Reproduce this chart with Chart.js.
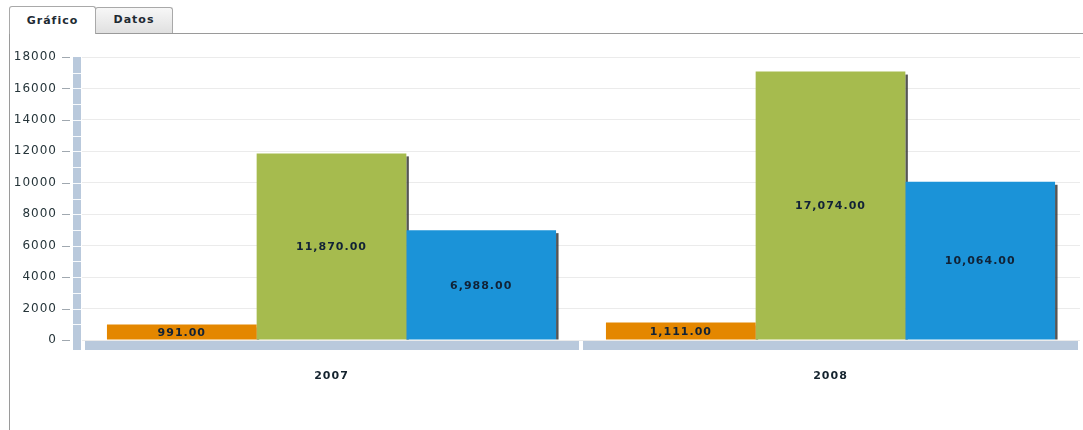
<!DOCTYPE html>
<html><head><meta charset="utf-8">
<script src="https://cdn.jsdelivr.net/npm/chart.js@4"></script>
<style>
html,body{margin:0;padding:0;background:#fff;width:1083px;height:430px;overflow:hidden;font-family:"DejaVu Sans",Verdana,sans-serif;}
.tab{position:absolute;box-sizing:border-box;font-weight:bold;font-size:11px;letter-spacing:1px;color:#1e2a33;text-align:center;border:1px solid #a9a9a9;border-bottom:none;border-radius:3px 3px 0 0;}
#t1{left:9px;top:6px;width:87px;height:28px;background:#fff;line-height:28px;z-index:2;}
#t2{left:95px;top:7px;width:78px;height:26px;background:linear-gradient(#f7f7f7,#e0e0e0);line-height:24px;}
#panel{position:absolute;left:9px;top:33px;width:1074px;height:397px;border-left:1px solid #9a9a9a;border-top:1px solid #9a9a9a;box-sizing:border-box;}
#wrap{position:absolute;left:10px;top:34px;width:1073px;height:396px;}
</style>
</head><body>
<div class="tab" id="t1">Gráfico</div>
<div class="tab" id="t2">Datos</div>
<div id="panel"></div>
<div id="wrap"><canvas id="c"></canvas></div>
<script>
const categories = ['2007', '2008'];
const seriesOrange = [991, 1111];
const seriesGreen = [11870, 17074];
const seriesBlue = [6988, 10064];
const yTicks = [0, 2000, 4000, 6000, 8000, 10000, 12000, 14000, 16000, 18000];

const wallColor = '#b9c9dc';

const decor = {
  id: 'decor',
  beforeDraw(chart) { chart.ctx.letterSpacing = '1px'; },
  beforeDatasetsDraw(chart) {
    const {ctx, chartArea: a, scales: {x, y}} = chart;
    ctx.save();
    // tick marks
    ctx.strokeStyle = '#a0a8b0'; ctx.lineWidth = 1;
    yTicks.forEach(v => {
      const py = Math.round(y.getPixelForValue(v)) + 0.5;
      ctx.beginPath(); ctx.moveTo(a.left - 20, py); ctx.lineTo(a.left - 12, py); ctx.stroke();
    });
    // wall
    const top = y.getPixelForValue(y.max);
    ctx.fillStyle = wallColor;
    ctx.fillRect(a.left - 9, top, 8, a.bottom + 10 - top);
    ctx.strokeStyle = 'rgba(255,255,255,0.9)';
    for (let v = 1000; v < y.max; v += 1000) {
      const py = Math.round(y.getPixelForValue(v)) + 0.5;
      ctx.beginPath(); ctx.moveTo(a.left - 9, py); ctx.lineTo(a.left - 1, py); ctx.stroke();
    }
    // floor
    const half = (x.getPixelForValue(1) - x.getPixelForValue(0)) / 2;
    categories.forEach((c, i) => {
      const cx = x.getPixelForValue(i);
      const l = Math.max(cx - half + 2, a.left + 3);
      const r = Math.min(cx + half - 2, a.right);
      ctx.fillStyle = wallColor;
      ctx.fillRect(l, a.bottom + 1, r - l, 9);
    });
    // bar shadows
    ctx.filter = 'blur(0.6px)';
    ctx.fillStyle = 'rgba(55,55,55,0.85)';
    chart.data.datasets.forEach((d, di) => {
      chart.getDatasetMeta(di).data.forEach(bar => {
        const p = bar.getProps(['x', 'y', 'base', 'width'], true);
        ctx.fillRect(p.x + p.width / 2, p.y + 3, 2.5, p.base - p.y - 3);
      });
    });
    ctx.restore();
  },
  afterDatasetsDraw(chart) {
    const ctx = chart.ctx;
    ctx.save();
    ctx.letterSpacing = '1px';
    ctx.font = 'bold 11px "DejaVu Sans"';
    ctx.fillStyle = '#112236';
    ctx.textAlign = 'center';
    ctx.textBaseline = 'middle';
    chart.data.datasets.forEach((d, di) => {
      chart.getDatasetMeta(di).data.forEach((bar, i) => {
        const p = bar.getProps(['x', 'y', 'base'], true);
        const txt = d.data[i].toLocaleString('en-US', {minimumFractionDigits: 2, maximumFractionDigits: 2});
        ctx.fillText(txt, p.x, (p.y + p.base) / 2 + 1);
      });
    });
    ctx.restore();
  }
};

new Chart(document.getElementById('c'), {
  type: 'bar',
  data: {
    labels: categories,
    datasets: [
      {label: 'Serie 1', data: seriesOrange, backgroundColor: '#e48700'},
      {label: 'Serie 2', data: seriesGreen, backgroundColor: '#a6bb4e'},
      {label: 'Serie 3', data: seriesBlue, backgroundColor: '#1b93d8'}
    ]
  },
  options: {
    responsive: true,
    maintainAspectRatio: false,
    animation: false,
    layout: {padding: {left: 0, right: 3, top: 23, bottom: 0}},
    datasets: {bar: {categoryPercentage: 0.9, barPercentage: 1.0, borderWidth: 0}},
    plugins: {legend: {display: false}, tooltip: {enabled: false}},
    scales: {
      x: {
        afterFit(s) { s.height = 90; },
        border: {display: false},
        grid: {display: false, drawTicks: false},
        ticks: {padding: 30, color: '#14232e', font: {family: 'DejaVu Sans', size: 11, weight: 'bold'}}
      },
      y: {
        min: 0, max: 18000,
        afterFit(s) { s.width = 72; },
        border: {display: false},
        grid: {color: '#ebebeb', tickLength: 20, tickColor: 'rgba(0,0,0,0)'},
        ticks: {stepSize: 2000, padding: 5, color: '#26353a', font: {family: 'DejaVu Sans', size: 12},
          callback: v => String(v)}
      }
    }
  },
  plugins: [decor]
});
</script>
</body></html>
